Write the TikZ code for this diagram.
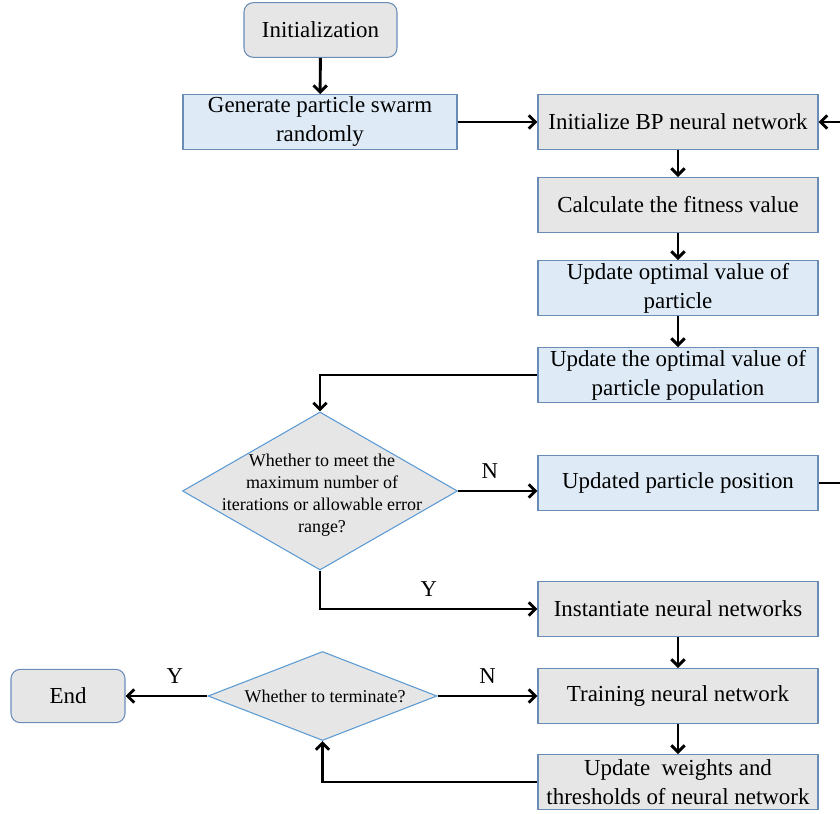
\documentclass[tikz,border=0pt]{standalone}
\usepackage{fontspec}
\setmainfont{Liberation Serif}
\usetikzlibrary{arrows.meta,shapes.geometric}
\definecolor{gfill}{HTML}{E6E6E6}
\definecolor{bfill}{HTML}{DEEBF7}
\definecolor{bdr}{HTML}{6A8DB8}
\definecolor{dbdr}{HTML}{5B9BD5}
\tikzset{
  box/.style={draw=bdr, line width=0.8pt, minimum width=210pt, minimum height=41pt, inner sep=0pt, align=center, font=\fontsize{17.2}{21.75}\selectfont},
  gbox/.style={box, fill=gfill},
  bbox/.style={box, fill=bfill},
  rbox/.style={gbox, rounded corners=7pt},
  dia/.style={diamond, draw=dbdr, fill=gfill, line width=0.8pt, inner sep=0pt},
  diatext/.style={align=center, inner sep=0pt, font=\fontsize{13.5}{16.5}\selectfont},
  lbl/.style={font=\fontsize{17}{20}\selectfont, inner sep=0pt},
  arr/.style={line width=2.2pt, -{Straight Barb[length=5pt,width=10pt]}},
  ln/.style={line width=2.2pt}
}
\begin{document}
\begin{tikzpicture}[x=0.75pt,y=-0.75pt]
\useasboundingbox (0,0) rectangle (840,814);
\node[rbox, minimum width=114.75pt] (init) at (320.5,30) {Initialization};
\node[bbox, minimum width=205.5pt] (gen) at (320,122) {Generate particle swarm\\randomly};
\node[gbox] (bp) at (678,122) {Initialize BP neural network};
\node[gbox] (fit) at (678,205) {Calculate the fitness value};
\node[bbox] (opt) at (678,288) {Update optimal value of\\particle};
\node[bbox] (pop) at (678,375) {Update the optimal value of\\particle population};
\node[dia, minimum width=206.25pt, minimum height=118.5pt] (d1) at (320,491) {};
\node[diatext] (d1t) at (322,495) {Whether to meet the\\maximum number of\\iterations or allowable error\\range?};
\node[bbox] (pos) at (678,483) {Updated particle position};
\node[gbox] (inst) at (678,609) {Instantiate neural networks};
\node[gbox] (train) at (678,696) {Training neural network};
\node[gbox] (upw) at (678,782) {Update~ weights and\\thresholds of neural network};
\node[dia, minimum width=171.75pt, minimum height=66.75pt] (d2) at (322.5,696) {};
\node[diatext] (d2t) at (325,696) {Whether to terminate?};
\node[rbox, minimum width=85.5pt, minimum height=40pt] (end) at (68,696) {End};
\coordinate (r1) at (840,483);
\coordinate (r2) at (840,122);

\draw[arr] (init) -- (gen);
\draw[arr] (gen) -- (bp);
\draw[arr] (bp) -- (fit);
\draw[arr] (fit) -- (opt);
\draw[arr] (opt) -- (pop);
\draw[arr] (pop.west) -| (d1.north);
\draw[arr] (d1.east) -- node[lbl, pos=0.4, above=8pt] (n1) {N} (d1.east -| pos.west);
\draw[arr] (d1.south) |- node[lbl, pos=0.75, above=8pt] (y1) {Y} (inst.west);
\draw[arr] (inst) -- (train);
\draw[arr] (train) -- (upw);
\draw[arr] (d2.east) -- node[lbl, above=8pt] (n2) {N} (train.west);
\draw[arr] (upw.west) -| (d2.south);
\draw[arr] (d2.west) -- node[lbl, pos=0.4, above=8pt] (y2) {Y} (end.east);
\draw[ln] (pos.east) -- (r1);
\draw[arr] (r2) -- (bp.east);
\end{tikzpicture}
\end{document}
